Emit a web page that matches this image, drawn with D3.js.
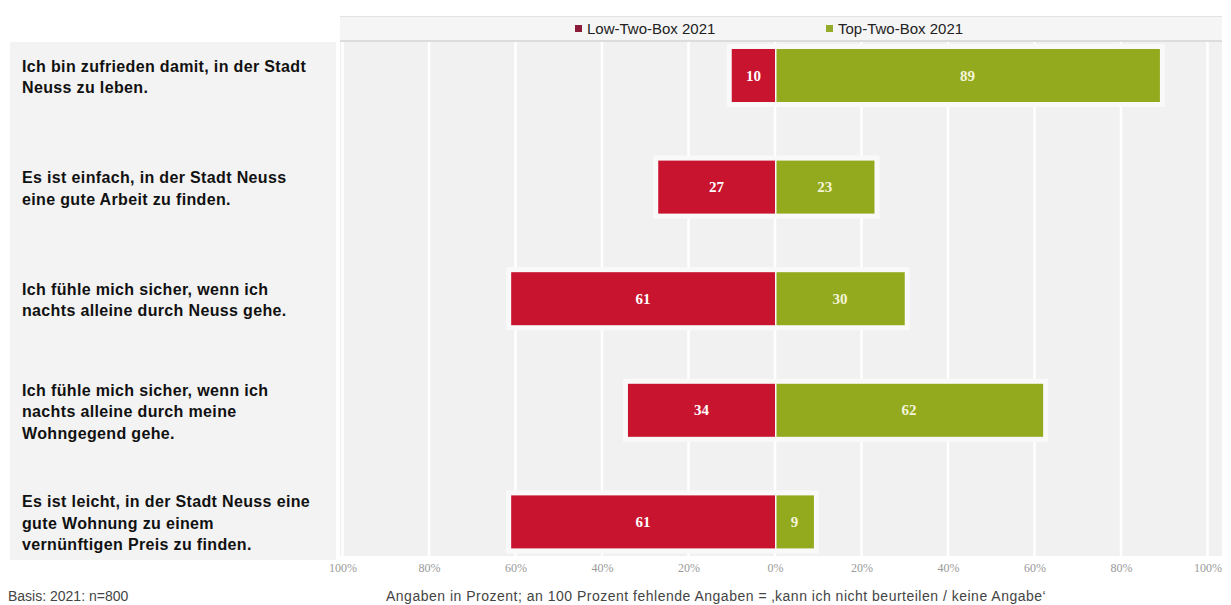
<!DOCTYPE html>
<html><head><meta charset="utf-8">
<script src="https://cdn.jsdelivr.net/npm/d3@7"></script>
<style>body{margin:0;background:#fff;}svg{display:block;}</style>
</head><body>
<svg id="c" width="1231" height="605"></svg>
<script>
const categories = [
  ["Ich bin zufrieden damit, in der Stadt", "Neuss zu leben."],
  ["Es ist einfach, in der Stadt Neuss", "eine gute Arbeit zu finden."],
  ["Ich fühle mich sicher, wenn ich", "nachts alleine durch Neuss gehe."],
  ["Ich fühle mich sicher, wenn ich", "nachts alleine durch meine", "Wohngegend gehe."],
  ["Es ist leicht, in der Stadt Neuss eine", "gute Wohnung zu einem", "vernünftigen Preis zu finden."]
];
const lowTwoBox = [10, 27, 61, 34, 61];
const topTwoBox = [89, 23, 30, 62, 9];
const tickValues = [-100, -80, -60, -40, -20, 0, 20, 40, 60, 80, 100];
const seriesNames = ["Low-Two-Box 2021", "Top-Two-Box 2021"];
const footLeft = "Basis: 2021: n=800";
const footRight = "Angaben in Prozent; an 100 Prozent fehlende Angaben = \u201Akann ich nicht beurteilen / keine Angabe\u2018";

const RED = "#c9142f", GREEN = "#93aa1f";
const svg = d3.select("#c");
const x = d3.scaleLinear().domain([-100, 100]).range([342.5, 1207.5]);
const ids = categories.map((d, i) => i);
const y = d3.scaleBand().domain(ids).range([19.7, 577.7]).paddingInner(0.525).paddingOuter(0.2625);

// left label panel
svg.append("rect").attr("x", 10).attr("y", 42).attr("width", 326).attr("height", 518).attr("fill", "#f3f3f3");
// plot panel
svg.append("rect").attr("x", 340).attr("y", 42).attr("width", 882).attr("height", 514).attr("fill", "#f1f1f1");
// legend band
svg.append("rect").attr("x", 340).attr("y", 16).attr("width", 882).attr("height", 24).attr("fill", "#f5f5f5");
svg.append("line").attr("x1", 340).attr("x2", 1222).attr("y1", 16.5).attr("y2", 16.5).attr("stroke", "#e2e2e2");
svg.append("line").attr("x1", 340).attr("x2", 1222).attr("y1", 41).attr("y2", 41).attr("stroke", "#dcdcdc").attr("stroke-width", 2);

// gridlines
svg.append("g").selectAll("line").data(tickValues).join("line")
  .attr("x1", d => x(d)).attr("x2", d => x(d)).attr("y1", 42).attr("y2", 556)
  .attr("stroke", "#ffffff").attr("stroke-width", 2.5);

// white halo rows
svg.append("g").selectAll("rect").data(ids).join("rect")
  .attr("x", i => x(-lowTwoBox[i]) - 5).attr("y", i => y(i) - 5)
  .attr("width", i => x(topTwoBox[i]) - x(-lowTwoBox[i]) + 10).attr("height", y.bandwidth() + 10)
  .attr("fill", "#f9f9f9");

// bars
svg.append("g").selectAll("rect").data(ids).join("rect")
  .attr("x", i => x(-lowTwoBox[i])).attr("y", i => y(i))
  .attr("width", i => x(0) - x(-lowTwoBox[i])).attr("height", y.bandwidth())
  .attr("fill", RED);
svg.append("g").selectAll("rect").data(ids).join("rect")
  .attr("x", i => x(0) + 1.5).attr("y", i => y(i))
  .attr("width", i => x(topTwoBox[i]) - x(0) - 1.5).attr("height", y.bandwidth())
  .attr("fill", GREEN);

// value labels
const vl = svg.append("g").attr("font-family", "'Liberation Serif','DejaVu Serif',serif")
  .attr("font-weight", "bold").attr("font-size", 15).attr("fill", "#fff").attr("text-anchor", "middle");
vl.selectAll("text.l").data(ids).join("text").attr("class", "l")
  .attr("x", i => (x(-lowTwoBox[i]) + x(0)) / 2).attr("y", i => y(i) + y.bandwidth() / 2 + 5)
  .text(i => lowTwoBox[i]);
vl.selectAll("text.t").data(ids).join("text").attr("class", "t")
  .attr("x", i => (x(0) + x(topTwoBox[i])) / 2).attr("y", i => y(i) + y.bandwidth() / 2 + 5)
  .attr("fill", "#f4f4d8")
  .text(i => topTwoBox[i]);

// category labels
const lh = 21.5;
const cl = svg.append("g").attr("font-family", "'Liberation Sans',Arial,sans-serif")
  .attr("font-weight", "bold").attr("font-size", 16).attr("letter-spacing", 0.35).attr("fill", "#111");
categories.forEach((lines, i) => {
  const cy = y(i) + y.bandwidth() / 2 + 2;
  const t = cl.append("text").attr("x", 22);
  lines.forEach((ln, k) => {
    t.append("tspan").attr("x", 22)
      .attr("y", cy + (k - (lines.length - 1) / 2) * lh + 5).text(ln);
  });
});

// axis
const axis = d3.axisBottom(x).tickValues(tickValues).tickSize(0).tickFormat(d => Math.abs(d) + "%");
const ax = svg.append("g").attr("transform", "translate(0,560)").call(axis);
ax.select(".domain").remove();
ax.selectAll("text").attr("font-family", "'Liberation Serif','DejaVu Serif',serif")
  .attr("font-size", 12).attr("fill", "#9a9a9a");

// legend
const leg = svg.append("g").attr("font-family", "'Liberation Sans',Arial,sans-serif").attr("font-size", 15).attr("fill", "#222");
const legX = [575, 826];
[RED, GREEN].forEach((c, i) => {
  leg.append("rect").attr("x", legX[i]).attr("y", 25).attr("width", 7).attr("height", 7).attr("fill", i === 0 ? "#8a1c3a" : "#95ab2a");
  leg.append("text").attr("x", legX[i] + 12).attr("y", 34).text(seriesNames[i]);
});

// footer
const ft = svg.append("g").attr("font-family", "'Liberation Sans',Arial,sans-serif").attr("font-size", 14).attr("fill", "#444");
ft.append("text").attr("x", 8).attr("y", 601).text(footLeft);
ft.append("text").attr("x", 386).attr("y", 601).attr("font-size", 14).attr("letter-spacing", 0.5).text(footRight);
</script>
</body></html>
